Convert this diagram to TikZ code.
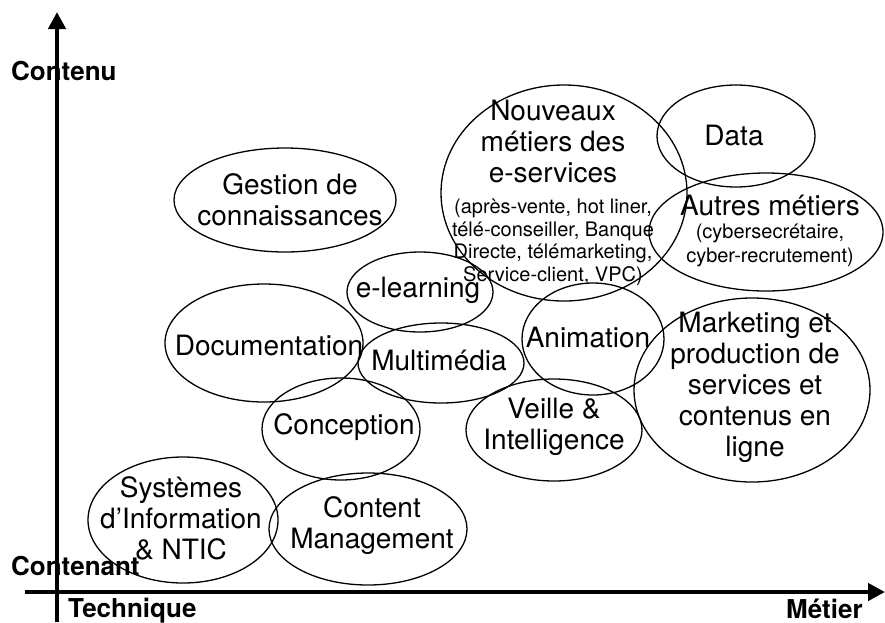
\documentclass[tikz,border=0pt]{standalone}
\usepackage{fontspec}
\setmainfont{TeX Gyre Heros}
\usepackage{tikz}
\usetikzlibrary{arrows.meta,shapes.geometric}

\newcommand{\petit}{\fontsize{20}{20}\selectfont}

\begin{document}
\begin{tikzpicture}[x=1pt,y=-1pt,
    bulle/.style={draw, ellipse, line width=1.3pt, inner sep=0pt},
    texte/.style={align=center, inner sep=0pt, font=\fontsize{28}{31}\selectfont},
    titre/.style={anchor=base west, inner sep=0pt, font=\bfseries\fontsize{26}{31}\selectfont},
    axe/.style={line width=4.5pt, -{Triangle[length=17pt,width=17pt]}}]

            \useasboundingbox (0,0) rectangle (885,622);

            % Draw the axis labels
            \node[titre] (contenu) at (11,80) {Contenu};
            \node[titre] (contenant) at (11,575) {Contenant};
            \node[titre] (technique) at (68,617) {Technique};
            \node[titre] (metier) at (786,618) {Métier};

            % Draw the axes
            \coordinate (bas) at (57,622);
            \coordinate (haut) at (57,12);
            \coordinate (gauche) at (25,592);
            \coordinate (droite) at (885,592);
            \draw[axe] (bas) -- (haut);
            \draw[axe] (gauche) -- (droite);

            % Draw the ellipses
            \node[bulle, minimum width=222pt, minimum height=104pt] (gestion) at (285,200) {};
            \node[texte] at (290,200) {Gestion de\\connaissances};

            \node[bulle, minimum width=246pt, minimum height=216pt] (nouveaux) at (564,193) {};
            \node[texte] at (553,193) {Nouveaux\\métiers des\\e-services\\
                \petit (après-vente, hot liner,\\[-8.5pt]
                \petit télé-conseiller, Banque\\[-8.5pt]
                \petit Directe, télémarketing,\\[-8.5pt]
                \petit Service-client, VPC)};

            \node[bulle, minimum width=158pt, minimum height=102pt] (data) at (736,136) {};
            \node[texte] at (734,135) {Data};

            \node[bulle, minimum width=234pt, minimum height=118pt] (autres) at (766,232) {};
            \node[texte] at (770,231) {Autres métiers\\[-8pt]
                \petit (cybersecrétaire,\\[-7pt]
                \petit cyber-recrutement)};

            \node[bulle, minimum width=146pt, minimum height=80pt] (elearning) at (420,292) {};
            \node[texte] at (418,290) {e-learning};

            \node[bulle, minimum width=198pt, minimum height=118pt] (documentation) at (264,343) {};
            \node[texte] at (269,345) {Documentation};

            \node[bulle, minimum width=166pt, minimum height=80pt] (multimedia) at (441,363) {};
            \node[texte] at (439,360) {Multimédia};

            \node[bulle, minimum width=142pt, minimum height=112pt] (animation) at (593,339) {};
            \node[texte] at (588,337) {Animation};

            \node[bulle, minimum width=236pt, minimum height=184pt] (marketing) at (752,390) {};
            \node[texte] at (755,387) {Marketing et\\production de\\services et\\contenus en\\ligne};

            \node[bulle, minimum width=158pt, minimum height=102pt] (conception) at (341,429) {};
            \node[texte] at (344,427) {Conception};

            \node[bulle, minimum width=176pt, minimum height=102pt] (veille) at (554,430) {};
            \node[texte] at (554,427) {Veille \&\\Intelligence};

            \node[bulle, minimum width=190pt, minimum height=126pt] (systemes) at (183,520) {};
            \node[texte] at (181,518) {Systèmes\\d'Information\\\& NTIC};

            \node[bulle, minimum width=198pt, minimum height=112pt] (content) at (368,529) {};
            \node[texte] at (372,526) {Content\\Management};

        \end{tikzpicture}
\end{document}
